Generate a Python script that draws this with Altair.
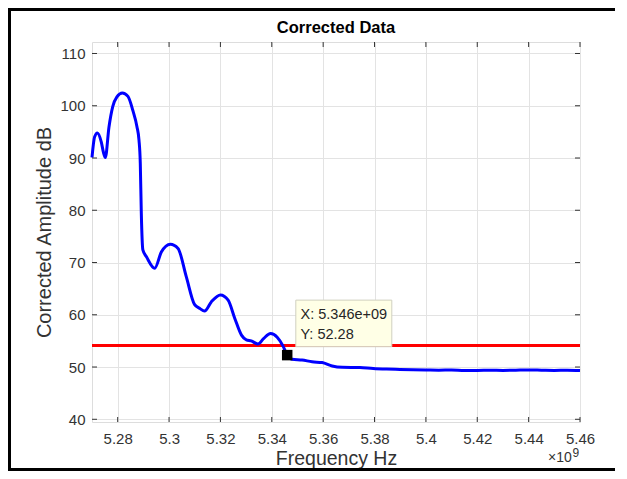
import altair as alt
import pandas as pd

# ---- data (frequency in units of 1e9 Hz, amplitude in dB) ----
freq_e9 = [5.2700, 5.2710, 5.2721, 5.2736, 5.2745, 5.2752, 5.2766, 5.2781, 5.2797,
           5.2818, 5.2840, 5.2859, 5.2875, 5.2883, 5.2888, 5.2892, 5.2898, 5.2912,
           5.2944, 5.2970, 5.3005, 5.3035, 5.3067, 5.3099, 5.3120, 5.3138, 5.3165,
           5.3200, 5.3230, 5.3256, 5.3282, 5.3301, 5.3320, 5.3346, 5.3369, 5.3395,
           5.3421, 5.3444, 5.3460, 5.3479, 5.3518, 5.3557, 5.3596, 5.3635, 5.3674,
           5.3743, 5.3795, 5.3847, 5.3899, 5.3950, 5.4000, 5.4050, 5.4100, 5.4150,
           5.4200, 5.4250, 5.4300, 5.4350, 5.4400, 5.4450, 5.4500, 5.4550, 5.4600]
amp_db = [90.1, 94.0, 94.8, 93.1, 91.0, 90.1, 95.9, 99.9, 101.7,
          102.45, 101.8, 99.1, 96.0, 93.4, 89.0, 79.4, 72.4, 71.1,
          68.9, 72.0, 73.5, 72.7, 67.3, 62.0, 61.2, 60.7, 62.5,
          63.8, 62.8, 59.3, 56.1, 55.2, 55.0, 54.4, 55.5, 56.4,
          55.7, 54.0, 52.28, 51.5, 51.35, 51.0, 50.85, 50.2, 49.95,
          49.9, 49.7, 49.6, 49.55, 49.5, 49.45, 49.4, 49.45, 49.35,
          49.35, 49.4, 49.35, 49.4, 49.45, 49.4, 49.35, 49.4, 49.35]
threshold_db = [54.1]
tip_freq_e9 = [5.346]
tip_amp_db = [52.28]
tip_lines = ["X: 5.346e+09", "Y: 52.28"]
title_text = "Corrected Data"
x_ticks = [5.28, 5.30, 5.32, 5.34, 5.36, 5.38, 5.40, 5.42, 5.44, 5.46]
y_ticks = [40, 50, 60, 70, 80, 90, 100, 110]
x_domain = [5.27, 5.46]
y_domain = [39.48, 112.2]

W, H = 488, 380
TOTAL_W, TOTAL_H = 611, 463
PAD_L, PAD_T = 84, 34
FONT = "Liberation Sans"
TXT = "#333333"

xs = alt.Scale(domain=x_domain, nice=False, zero=False)
ys = alt.Scale(domain=y_domain, nice=False, zero=False)

x_axis = alt.Axis(values=x_ticks, labelExpr="toString(round(datum.value*100)/100)",
                  title="Frequency Hz", titleFontSize=19.5, titleFont=FONT, titleColor=TXT,
                  titleFontWeight="normal", titleX=W / 2, titleY=42, titleAlign="center",
                  titleBaseline="alphabetic", labelFont=FONT, labelFontSize=15,
                  labelColor=TXT, labelPadding=21, labelBaseline="alphabetic",
                  ticks=False, tickSize=0, domain=False, grid=True,
                  gridColor="#e3e3e3", labelFlush=False)
y_axis = alt.Axis(values=y_ticks, title="Corrected Amplitude dB", titleFontSize=20,
                  titleFont=FONT, titleColor=TXT, titleFontWeight="normal",
                  titleX=-41.5, titleY=H / 2, titleAngle=270, titleAlign="center",
                  titleBaseline="alphabetic", labelFont=FONT, labelFontSize=15,
                  labelColor=TXT, labelPadding=7, labelBaseline="middle",
                  ticks=False, tickSize=0, domain=False, grid=True,
                  gridColor="#e3e3e3", labelFlush=False)

trace = pd.DataFrame({"f": freq_e9, "a": amp_db})
thr = pd.DataFrame({"a": threshold_db})
tip = pd.DataFrame({"f": tip_freq_e9, "a": tip_amp_db})
xt = pd.DataFrame({"f": x_ticks})
yt = pd.DataFrame({"a": y_ticks})
one = pd.DataFrame({"k": [0]})

# outer frame (left, top, bottom edges; right edge lies outside the picture)
frame_left = alt.Chart(one).mark_rule(color="black", strokeWidth=3).encode(
    x=alt.value(1.5 - PAD_L), y=alt.value(-PAD_T), y2=alt.value(TOTAL_H - PAD_T))
frame_top = alt.Chart(one).mark_rule(color="black", strokeWidth=3).encode(
    y=alt.value(1.5 - PAD_T), x=alt.value(-PAD_L), x2=alt.value(TOTAL_W - PAD_L - 4))
frame_bot = alt.Chart(one).mark_rule(color="black", strokeWidth=3).encode(
    y=alt.value(TOTAL_H - 1.5 - PAD_T), x=alt.value(-PAD_L), x2=alt.value(TOTAL_W - PAD_L - 4))

title = alt.Chart(one).mark_text(align="center", baseline="alphabetic", font=FONT,
                                 fontSize=16.5, fontWeight="bold", color="black").encode(
    x=alt.value(W / 2), y=alt.value(-9), text=alt.value(title_text))

red = alt.Chart(thr).mark_rule(color="#ff0000", strokeWidth=3).encode(
    y=alt.Y("a:Q", scale=ys, axis=y_axis))

blue = alt.Chart(trace).mark_line(color="#0000ff", strokeWidth=3, interpolate="monotone").encode(
    x=alt.X("f:Q", scale=xs, axis=x_axis), y=alt.Y("a:Q", scale=ys, axis=y_axis))

tick_color = "#333333"
xt_bot = alt.Chart(xt).mark_rule(color=tick_color, strokeWidth=1).encode(
    x=alt.X("f:Q", scale=xs, axis=x_axis), y=alt.value(H), y2=alt.value(H - 5))
xt_top = alt.Chart(xt).mark_rule(color=tick_color, strokeWidth=1).encode(
    x=alt.X("f:Q", scale=xs, axis=x_axis), y=alt.value(0), y2=alt.value(5))
yt_left = alt.Chart(yt).mark_rule(color=tick_color, strokeWidth=1).encode(
    y=alt.Y("a:Q", scale=ys, axis=y_axis), x=alt.value(0), x2=alt.value(5))
yt_right = alt.Chart(yt).mark_rule(color=tick_color, strokeWidth=1).encode(
    y=alt.Y("a:Q", scale=ys, axis=y_axis), x=alt.value(W - 5), x2=alt.value(W))

box = alt.Chart(tip).mark_rect(fill="#ffffe6", stroke="#d0d0c0", strokeWidth=1,
                               xOffset=8.6, x2Offset=104.6, yOffset=-55, y2Offset=-8.4).encode(
    x=alt.X("f:Q", scale=xs, axis=x_axis), x2="f:Q",
    y=alt.Y("a:Q", scale=ys, axis=y_axis), y2="a:Q")

tip_layers = []
for line, dy in zip(tip_lines, [-35.8, -15.8]):
    tip_layers.append(
        alt.Chart(tip).mark_text(align="left", baseline="alphabetic", dx=13.3, dy=dy,
                                 font=FONT, fontSize=14.5, color="#262626").encode(
            x=alt.X("f:Q", scale=xs, axis=x_axis), y=alt.Y("a:Q", scale=ys, axis=y_axis),
            text=alt.value(line)))

marker = alt.Chart(tip).mark_square(size=110, color="black", opacity=1, filled=True).encode(
    x=alt.X("f:Q", scale=xs, axis=x_axis), y=alt.Y("a:Q", scale=ys, axis=y_axis))

exp_base = alt.Chart(one).mark_text(align="right", baseline="alphabetic", font=FONT,
                                    fontSize=14, color=TXT).encode(
    x=alt.value(479.7), y=alt.value(H + 40), text=alt.value("×10"))
exp_sup = alt.Chart(one).mark_text(align="left", baseline="alphabetic", font=FONT,
                                   fontSize=12, color=TXT).encode(
    x=alt.value(480.5), y=alt.value(H + 35), text=alt.value("9"))

chart = alt.layer(frame_left, frame_top, frame_bot, title, red, blue, xt_bot, xt_top,
                  yt_left, yt_right, box, *tip_layers, marker, exp_base, exp_sup).properties(
    width=W, height=H,
    autosize=alt.AutoSizeParams(type="none"),
    padding={"left": PAD_L, "top": PAD_T, "right": TOTAL_W - PAD_L - W,
             "bottom": TOTAL_H - PAD_T - H},
).configure_view(stroke="#404040", strokeWidth=1).configure(background="white")

chart.save("out.html", embed_options={"renderer": "svg", "actions": False})
